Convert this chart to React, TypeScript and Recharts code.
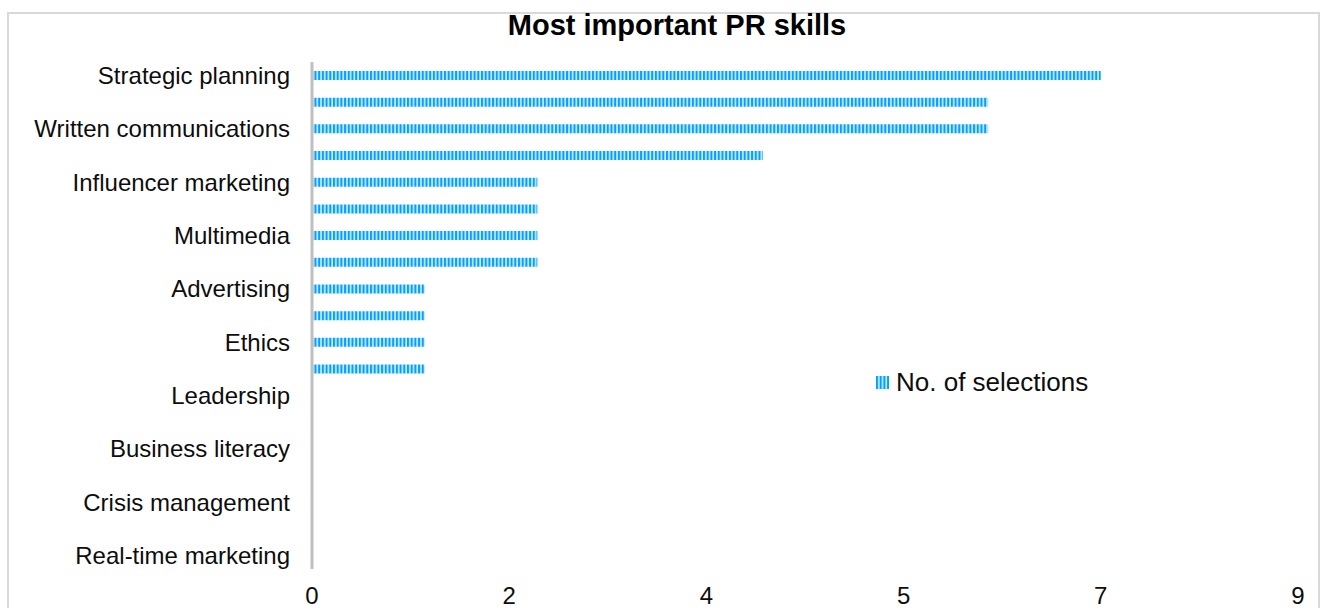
import { BarChart, Bar, XAxis, YAxis, Legend } from 'recharts';

// Skills in survey order; rows without a printed label are left blank
const skills = [
  'Strategic planning', '', 'Written communications', '',
  'Influencer marketing', '', 'Multimedia', '',
  'Advertising', '', 'Ethics', '',
  'Leadership', '', 'Business literacy', '',
  'Crisis management', '', 'Real-time marketing',
];
const selections = [7, 6, 6, 4, 2, 2, 2, 2, 1, 1, 1, 1, 0, 0, 0, 0, 0, 0, 0];
const xTicks = [0, 1.75, 3.5, 5.25, 7, 8.75];

const data = skills.map((skill, i) => ({ skill, selections: selections[i] }));

const FONT = '"Liberation Sans", Arial, sans-serif';

function StripeLegend({ payload }: any) {
  return (
    <div style={{ display: 'flex', alignItems: 'center', fontFamily: FONT }}>
      {(payload ?? []).map((p: any) => (
        <div key={p.value} style={{ display: 'flex', alignItems: 'center' }}>
          <svg width={13} height={13} style={{ marginRight: 7 }}>
            <rect width={13} height={13} fill="url(#prStripes)" />
          </svg>
          <span style={{ fontSize: 26, color: '#0d0d0d' }}>{p.value}</span>
        </div>
      ))}
    </div>
  );
}

export default function App() {
  return (
    <div style={{ position: 'fixed', left: 0, top: 0, width: 1324, height: 608, overflow: 'hidden', background: '#fff' }}>
      <div style={{ position: 'absolute', left: 7, top: 12, width: 1313, height: 700, border: '2px solid #d9d9d9', boxSizing: 'border-box' }} />
      <div style={{ position: 'absolute', left: 0, top: 0 }}>
        <BarChart width={1324} height={608} data={data} layout="vertical" margin={{ top: 62, right: 26, bottom: 0, left: 0 }}>
          <defs>
            <pattern id="prStripes" width={3.7} height={9} patternUnits="userSpaceOnUse">
              <rect width={3.7} height={9} fill="#c8e9fc" />
              <rect width={2} height={9} fill="#00a2ff" />
            </pattern>
          </defs>
          <text x={677} y={35} textAnchor="middle" fontSize={29} fontWeight="bold" fontFamily={FONT} fill="#000">
            Most important PR skills
          </text>
          <XAxis
            type="number"
            domain={[0, 8.75]}
            ticks={xTicks}
            tickFormatter={(v) => String(Math.round(v))}
            axisLine={false}
            tickLine={false}
            tickSize={0}
            tickMargin={18}
            height={39}
            tick={{ fontSize: 24, fill: '#0d0d0d', fontFamily: FONT }}
          />
          <YAxis
            type="category"
            dataKey="skill"
            width={312}
            interval={0}
            tickLine={false}
            tickSize={0}
            tickMargin={22}
            axisLine={{ stroke: '#bfbfbf', strokeWidth: 3 }}
            tick={{ fontSize: 24, fill: '#0d0d0d', fontFamily: FONT }}
          />
          <Legend
            verticalAlign="middle"
            content={<StripeLegend />}
            wrapperStyle={{ position: 'absolute', left: 876, top: 367, width: 'auto', height: 'auto' }}
          />
          <Bar dataKey="selections" name="No. of selections" fill="url(#prStripes)" barSize={9} isAnimationActive={false} />
        </BarChart>
      </div>
    </div>
  );
}
